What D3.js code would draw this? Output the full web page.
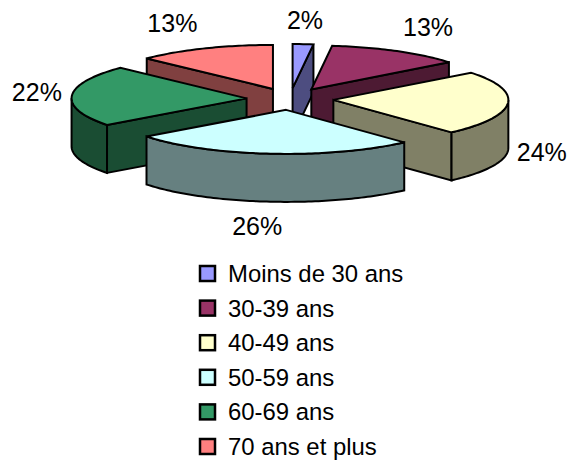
<!DOCTYPE html>
<html>
<head>
<meta charset="utf-8">
<script src="https://cdn.jsdelivr.net/npm/d3@7"></script>
<style>
html,body{margin:0;padding:0;background:#fff}
svg{display:block}
text{font-family:"Liberation Sans",Arial,sans-serif;fill:#000}
</style>
</head>
<body>
<div id="chart"></div>
<script>
const categories = ["Moins de 30 ans","30-39 ans","40-49 ans","50-59 ans","60-69 ans","70 ans et plus"];
const values = [1.9, 12.5, 23.8, 26.49, 22.49, 12.82];
const topColors = ["#9999FF","#993366","#FFFFCC","#CCFFFF","#339966","#FF8080"];
const wallColors = ["#4D4D80","#4D1A33","#808066","#668080","#1A4D33","#804040"];
const drawOrder = [5,0,1,4,2,3];

const W=571,H=464;
const cx=290,cy=99,rx=175,ry=44,depth=48,explode=43.5;
const labelNudge=[[2,-24],[31,-24],[34,49],[-13,72],[-35,-4],[-32,-25]];

const svg=d3.select("#chart").append("svg").attr("width",W).attr("height",H);
const arcs=d3.pie().sort(null).value(d=>d)(values);
const line=d3.line();
const pt=(o,a,dy=0)=>[o[0]+rx*Math.sin(a),o[1]-ry*Math.cos(a)+dy];
const apexOf=d=>{
  const m=(d.startAngle+d.endAngle)/2;
  return [cx+explode*Math.sin(m),cy-explode*(ry/rx)*Math.cos(m)];
};
const sample=(o,a,b,dy=0)=>{
  const n=Math.max(2,Math.ceil((b-a)/0.02));
  return d3.range(n+1).map(i=>pt(o,a+(b-a)*i/n,dy));
};
const style=(s,fill)=>s.attr("fill",fill).attr("stroke","#000").attr("stroke-width",2).attr("stroke-linejoin","miter");

const g=svg.append("g");
drawOrder.forEach(i=>{
  const d=arcs[i],o=apexOf(d),a=d.startAngle,b=d.endAngle;
  const bottom=[o[0],o[1]+depth];
  if(Math.sin(a)<0){
    const p=pt(o,a);
    g.append("path").attr("d",line([o,p,[p[0],p[1]+depth],bottom])+"Z").call(style,wallColors[i]);
  }
  if(Math.sin(b)>0){
    const p=pt(o,b);
    g.append("path").attr("d",line([o,p,[p[0],p[1]+depth],bottom])+"Z").call(style,wallColors[i]);
  }
  const ra=Math.max(a,Math.PI/2),rb=Math.min(b,Math.PI*1.5);
  if(rb>ra){
    const upper=sample(o,ra,rb),lower=sample(o,ra,rb,depth).reverse();
    g.append("path").attr("d",line(upper.concat(lower))+"Z").call(style,wallColors[i]);
  }
  g.append("path").attr("d",line([o].concat(sample(o,a,b)))+"Z").call(style,topColors[i]);
});

arcs.forEach((d,i)=>{
  const m=(d.startAngle+d.endAngle)/2,p=pt(apexOf(d),m);
  svg.append("text").attr("x",p[0]+labelNudge[i][0]).attr("y",p[1]+labelNudge[i][1]+9)
    .attr("text-anchor","middle").attr("font-size",25).text(Math.round(d.value)+"%");
});

const legendY=d3.scalePoint().domain(categories).range([274,447]);
categories.forEach((c,i)=>{
  const y=legendY(c);
  svg.append("rect").attr("x",200).attr("y",y-8).attr("width",15).attr("height",15)
    .attr("fill",topColors[i]).attr("stroke","#000").attr("stroke-width",2.5);
  svg.append("text").attr("x",228).attr("y",y+8).attr("font-size",23.9).text(c);
});
</script>
</body>
</html>
